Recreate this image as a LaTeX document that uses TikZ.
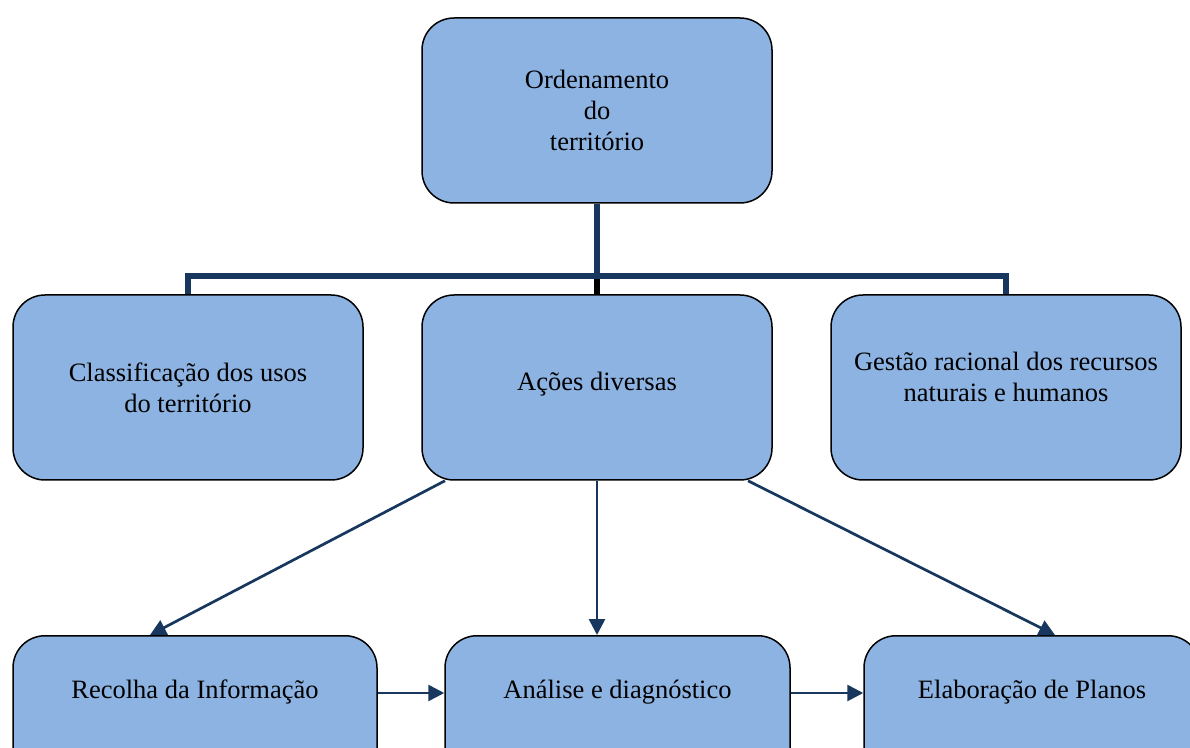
\documentclass[tikz,border=0pt]{standalone}
\usepackage{fontspec}
\setmainfont{Liberation Serif}
\usetikzlibrary{arrows.meta}
\definecolor{boxfill}{HTML}{8DB3E2}
\definecolor{linkblue}{HTML}{17375E}
\tikzset{
  box/.style={draw=black, line width=1.5pt, fill=boxfill, rounded corners=32pt,
    align=center, font=\fontsize{26.5}{31}\selectfont, inner sep=0pt,
    minimum width=350pt, minimum height=185pt},
  lowbox/.style={box, anchor=north, minimum height=0pt, text height=63pt, text depth=122pt},
  tree/.style={draw=linkblue, line width=5.5pt},
  stub/.style={draw=black, line width=5.5pt},
  arr/.style={draw=linkblue, line width=2.7pt, -{Triangle[length=16pt,width=16pt]}}
}
\begin{document}
\begin{tikzpicture}[x=1pt,y=1pt]
\useasboundingbox (0,0) rectangle (1190,747);
\clip (0,0) rectangle (1190,747);
\node[box] (top) at (597,636.5) {Ordenamento\\do\\território};
\node[box] (cls) at (188,359.5) {Classificação dos usos\\do território};
\node[box] (mid) at (597,359.5) {Ações diversas\\[-19pt]};
\node[box] (ges) at (1006,359.5) {Gestão racional dos recursos\\naturais e humanos\\[-9pt]};
\node[lowbox, minimum width=364pt] (rec) at (195,112) {Recolha da Informação};
\node[lowbox, minimum width=345pt] (ana) at (617.5,112) {Análise e diagnóstico};
\node[lowbox, minimum width=336pt] (ela) at (1032,112) {Elaboração de Planos};
% tree connectors
\coordinate (bar) at (597,471);
\draw[stub] (bar) -- (mid.north);
\draw[tree] (cls.north) -- (cls.north |- bar) -- (ges.north |- bar) -- (ges.north);
\draw[tree] (top.south) -- ([yshift=-2.75pt]bar);
% arrows
\draw[arr] ([xshift=-152pt]mid.south) -- ([xshift=-45pt]rec.north);
\draw[arr] (mid.south) -- (mid.south |- ana.north);
\draw[arr] ([xshift=151pt]mid.south) -- ([xshift=23pt]ela.north);
\draw[arr] ([yshift=-58pt]rec.north east) -- ([yshift=-58pt]ana.north west);
\draw[arr] ([yshift=-58pt]ana.north east) -- ([yshift=-58pt]ela.north west);
\end{tikzpicture}
\end{document}
